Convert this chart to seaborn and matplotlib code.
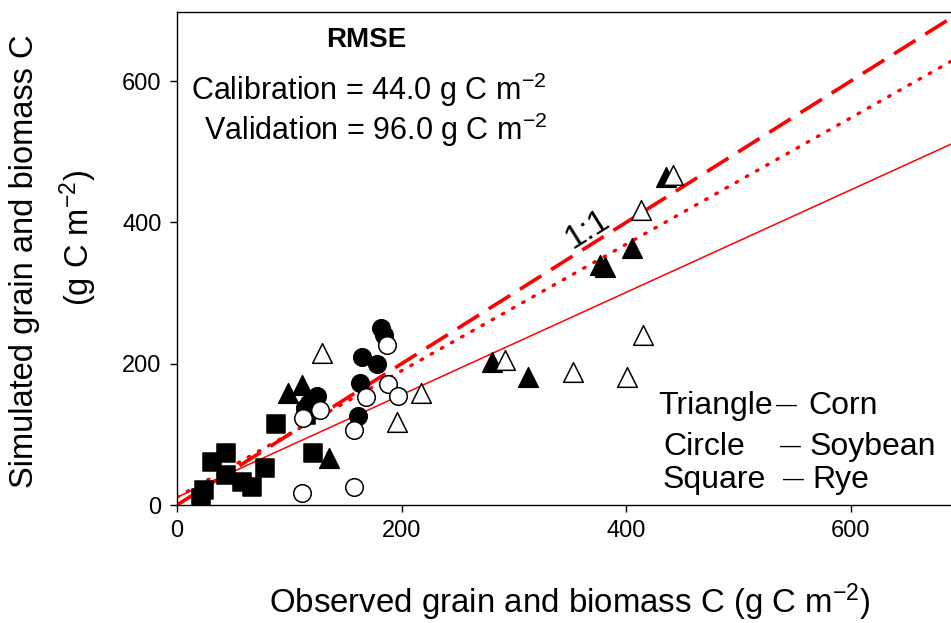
import matplotlib
matplotlib.use("Agg")
import matplotlib.pyplot as plt
import numpy as np
import pandas as pd
import seaborn as sns

# Observed vs simulated grain and biomass C (g C m-2)
# Calibration sites are drawn filled, validation sites open.
corn_cal_obs = [99, 111, 135, 281, 313, 377, 381, 405, 436]
corn_cal_sim = [158, 170, 66, 203, 181, 340, 337, 364, 464]
corn_val_obs = [129, 196, 217, 292, 353, 401, 413, 415, 442]
corn_val_sim = [215, 118, 158, 205, 188, 181, 418, 241, 467]

soy_cal_obs = [182, 184, 165, 178, 163, 161, 125, 118, 114]
soy_cal_sim = [251, 241, 210, 200, 173, 126, 154, 144, 137]
soy_val_obs = [187, 168, 188, 197, 158, 158, 111, 112, 127]
soy_val_sim = [226, 153, 172, 154, 106, 25, 17, 123, 134]

rye_cal_obs = [21, 24, 31, 44, 44, 58, 67, 78, 88, 121, 115]
rye_cal_sim = [10, 21, 61, 73, 42, 33, 26, 52, 115, 73, 128]

# Fitted lines (intercept, slope)
fit_dotted = (11, 0.895)
fit_solid = (11, 0.725)

rmse_cal = 44.0
rmse_val = 96.0

x_ticks = [0, 200, 400, 600]
y_ticks = [0, 200, 400, 600]

rows = []
for crop, obs, sim, dataset in [
    ("Corn", corn_cal_obs, corn_cal_sim, "Calibration"),
    ("Corn", corn_val_obs, corn_val_sim, "Validation"),
    ("Soybean", soy_cal_obs, soy_cal_sim, "Calibration"),
    ("Soybean", soy_val_obs, soy_val_sim, "Validation"),
    ("Rye", rye_cal_obs, rye_cal_sim, "Calibration"),
]:
    for o, s in zip(obs, sim):
        rows.append({"crop": crop, "observed": o, "simulated": s, "set": dataset})
df = pd.DataFrame(rows)

sns.set_theme(style="ticks")
plt.rcParams["font.family"] = ["Liberation Sans", "DejaVu Sans"]
plt.rcParams["text.color"] = "black"
plt.rcParams["axes.labelcolor"] = "black"
plt.rcParams["xtick.color"] = "black"
plt.rcParams["ytick.color"] = "black"
plt.rcParams["mathtext.fontset"] = "custom"
plt.rcParams["mathtext.rm"] = "Liberation Sans"
plt.rcParams["mathtext.it"] = "Liberation Sans:italic"
plt.rcParams["mathtext.bf"] = "Liberation Sans:bold"

W, H = 951, 623
fig = plt.figure(figsize=(W / 100, H / 100), dpi=100)
ax = fig.add_axes([177 / W, (H - 505) / H, (W - 177) / W, (505 - 12) / H])

markers = {"Corn": "^", "Soybean": "o", "Rye": "s"}
sizes = {"Corn": 200, "Soybean": 160, "Rye": 165}

# reference lines
ax.axline((0, 0), slope=1, color="red", lw=2.6, ls=(0, (7.0, 3.2)), zorder=1)
ax.axline((0, fit_dotted[0]), slope=fit_dotted[1], color="red", lw=2.4,
          ls=(0, (0.5, 3.0)), dash_capstyle="round", zorder=1)
ax.axline((0, fit_solid[0]), slope=fit_solid[1], color="red", lw=1.1, zorder=1)

for crop in ["Rye", "Soybean", "Corn"]:
    for dataset in ["Calibration", "Validation"]:
        sub = df[(df["crop"] == crop) & (df["set"] == dataset)]
        if sub.empty:
            continue
        face = "black" if dataset == "Calibration" else "white"
        sns.scatterplot(data=sub, x="observed", y="simulated", ax=ax,
                        marker=markers[crop], s=sizes[crop], color=face,
                        edgecolor="black", linewidth=1.1, zorder=3,
                        legend=False)

ax.set_xlim(0, 689.5)
ax.set_ylim(0, 698)
ax.set_xticks(x_ticks)
ax.set_yticks(y_ticks)
ax.tick_params(direction="out", length=5, width=1.0, labelsize=17,
               color="black", labelcolor="black")
ax.tick_params(axis="x", pad=6)
ax.tick_params(axis="y", pad=6)
for side in ["left", "bottom", "top"]:
    ax.spines[side].set_color("black")
    ax.spines[side].set_linewidth(1.0)
ax.spines["right"].set_visible(False)
ax.set_xlabel("")
ax.set_ylabel("")

# axis titles
fig.text(570 / W, 1 - 602 / H, "Observed grain and biomass C (g C m$^{-2}$)",
         ha="center", va="center", fontsize=23.8)
fig.text(25 / W, 1 - 261 / H, "Simulated grain and biomass C",
         ha="center", va="center", rotation=90, fontsize=23.5)
fig.text(78 / W, 1 - 238 / H, "(g C m$^{-2}$)",
         ha="center", va="center", rotation=90, fontsize=23.5)

# RMSE block
fig.text(366 / W, 1 - 47 / H, "RMSE", ha="center", va="baseline",
         fontsize=20, fontweight="bold")
fig.text(191 / W, 1 - 100 / H, f"Calibration = {rmse_cal:.1f} g C m$^{{-2}}$",
         ha="left", va="baseline", fontsize=22)
fig.text(204 / W, 1 - 140 / H, f"Validation = {rmse_val:.1f} g C m$^{{-2}}$",
         ha="left", va="baseline", fontsize=22)

# 1:1 label along the dashed line
ax.text(366, 390, "1:1", ha="center", va="center", rotation=32,
        fontsize=24, rotation_mode="anchor")

# marker key
key_rows = [("Triangle", 414, 658, 776, "Corn", 808),
            ("Circle", 455, 663, 780, "Soybean", 810),
            ("Square", 488, 663, 783, "Rye", 812)]
for shape, yb, xs, xd, crop, xc in key_rows:
    fig.text(xs / W, 1 - yb / H, shape, ha="left", va="baseline", fontsize=23)
    fig.text(xd / W, 1 - (yb - 3) / H, "\u2014", ha="left", va="baseline",
             fontsize=15)
    fig.text(xc / W, 1 - yb / H, crop, ha="left", va="baseline", fontsize=23)

fig.savefig("out.png", dpi=100)
